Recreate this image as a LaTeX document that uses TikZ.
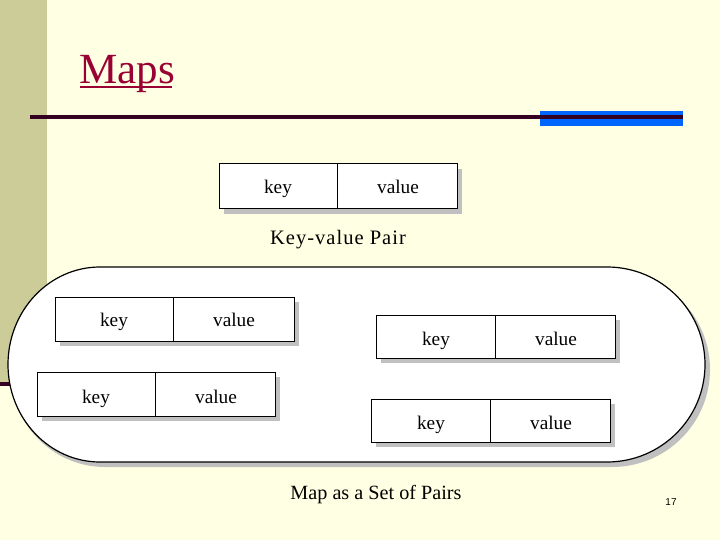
\documentclass[tikz,border=0pt]{standalone}
\usepackage{fontspec}
\setmainfont{Liberation Serif}
\newfontfamily\sansf{Liberation Sans}
\begin{document}
\begin{tikzpicture}[x=1pt,y=-1pt,
  pairbox/.style={draw=black, line width=1pt, fill=white},
  lbl/.style={font=\fontsize{19.3}{21}\selectfont, inner sep=0pt, anchor=base}]
\definecolor{bgcream}{HTML}{FFFFE3}
\definecolor{stripe}{HTML}{CCCC99}
\definecolor{rule}{HTML}{330022}
\definecolor{blueb}{HTML}{0066FF}
\definecolor{titlered}{HTML}{990033}
\definecolor{shadowgray}{HTML}{C0C0C0}
\useasboundingbox (0,0) rectangle (720,540);
\fill[bgcream] (0,0) rectangle (720,540);
\fill[stripe] (0,0) rectangle (47,382);
\fill[rule] (0,382) rectangle (47,386);
% title
\node[font=\fontsize{43}{46}\selectfont, text=titlered, anchor=base west, inner sep=0pt] (title) at (79,84) {Maps};
\fill[titlered] (title.base west) ++(1,2) rectangle ++(92,2.5);
% rule and blue bar
\fill[blueb] (540,111) rectangle (683,126);
\fill[rule] (30,115.5) rectangle (683,119);
% top pair
\fill[shadowgray] (224,169) rectangle (462,214);
\draw[pairbox] (219,164) rectangle (457,209);
\draw[line width=1pt] (337,164) -- (337,209);
\node[lbl] (k0) at (278,194) {key};
\node[lbl] (v0) at (398,194) {value};
\node[font=\fontsize{20.5}{22}\selectfont\addfontfeature{LetterSpace=5}, inner sep=0pt, anchor=base] (cap0) at (338,244) {Key-value Pair};
% big stadium
\fill[shadowgray] (105,272) -- (612,272) arc[start angle=-90, end angle=90, x radius=98, y radius=97.5] -- (105,467) arc[start angle=90, end angle=270, x radius=95, y radius=97.5] -- cycle;
\draw[line width=1.2pt, fill=white] (100,267) -- (607,267) arc[start angle=-90, end angle=90, x radius=98, y radius=97.5] -- (100,462) arc[start angle=90, end angle=270, x radius=92, y radius=97.5] -- cycle;
% pair 1
\fill[shadowgray] (60,302) rectangle (299,346);
\draw[pairbox] (55,297) rectangle (294,341);
\draw[line width=1pt] (173,297) -- (173,341);
\node[lbl] (k1) at (114,326) {key};
\node[lbl] (v1) at (234,326) {value};
% pair 2
\fill[shadowgray] (42,377) rectangle (280,421);
\draw[pairbox] (37,372) rectangle (275,416);
\draw[line width=1pt] (155,372) -- (155,416);
\node[lbl] (k2) at (96,403) {key};
\node[lbl] (v2) at (216,403) {value};
% pair 3
\fill[shadowgray] (381,320) rectangle (620,363);
\draw[pairbox] (376,315) rectangle (615,358);
\draw[line width=1pt] (495,315) -- (495,358);
\node[lbl] (k3) at (436,345) {key};
\node[lbl] (v3) at (556,345) {value};
% pair 4
\fill[shadowgray] (376,404) rectangle (615,447);
\draw[pairbox] (371,399) rectangle (610,442);
\draw[line width=1pt] (490,399) -- (490,442);
\node[lbl] (k4) at (431,429) {key};
\node[lbl] (v4) at (551,429) {value};
% caption
\node[font=\fontsize{20.2}{22}\selectfont, inner sep=0pt, anchor=base] (cap1) at (376,499) {Map as a Set of Pairs};
\node[font=\sansf\fontsize{10}{12}\selectfont, inner sep=0pt, anchor=base] (pg) at (671,505) {17};
\end{tikzpicture}
\end{document}
